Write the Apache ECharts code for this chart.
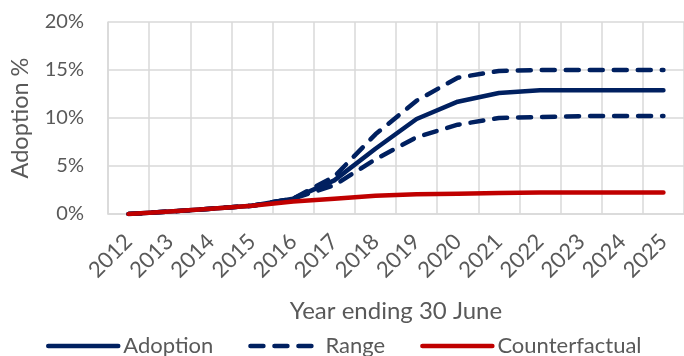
<!DOCTYPE html>
<html>
<head>
<meta charset="utf-8">
<script src="https://cdn.jsdelivr.net/npm/echarts@6/dist/echarts.min.js"></script>
<style>
  html, body { margin: 0; padding: 0; background: #fff; }
  #chart { width: 684px; height: 356px; }
</style>
</head>
<body>
<div id="chart"></div>
<script>
// Year ending 30 June
const years = ['2012', '2013', '2014', '2015', '2016', '2017', '2018',
               '2019', '2020', '2021', '2022', '2023', '2024', '2025'];

// Adoption, % of total
const adoption       = [0, 0.25, 0.55, 0.85, 1.6, 3.5, 6.8, 9.9, 11.7, 12.6, 12.9, 12.9, 12.9, 12.9];
const rangeHigh      = [0, 0.25, 0.55, 0.85, 1.6, 3.9, 8.3, 11.8, 14.2, 14.9, 15.0, 15.0, 15.0, 15.0];
const rangeLow       = [0, 0.25, 0.55, 0.85, 1.6, 3.0, 5.7, 8.0, 9.3, 10.0, 10.1, 10.2, 10.2, 10.2];
const counterfactual = [0, 0.25, 0.55, 0.85, 1.3, 1.6, 1.9, 2.05, 2.1, 2.2, 2.25, 2.25, 2.25, 2.25];

// Value axis ticks
const yTicks = [0, 5, 10, 15, 20];

const NAVY = '#002060';
const RED = '#C00000';
const TEXT = '#595959';
const GRID = '#d9d9d9';
const FONT = 'Lato';
const DASH = [13, 11];

const chart = echarts.init(document.getElementById('chart'), null, { renderer: 'canvas' });

function lineSeries(name, data, color, dashed) {
  return {
    name: name,
    type: 'line',
    data: data,
    symbol: 'none',
    smooth: false,
    lineStyle: {
      color: color,
      width: 4.5,
      cap: 'round',
      join: 'round',
      type: dashed ? DASH : 'solid'
    },
    itemStyle: { color: color },
    emphasis: { disabled: true }
  };
}

chart.setOption({
  animation: false,
  textStyle: { fontFamily: FONT },
  grid: { left: 107, right: -7, top: 22, bottom: 142, containLabel: false },
  xAxis: {
    type: 'category',
    data: years,
    boundaryGap: true,
    axisLine: { show: true, lineStyle: { color: GRID, width: 1.5 } },
    axisTick: { show: false },
    splitLine: { show: true, lineStyle: { color: GRID, width: 1.5 } },
    axisLabel: {
      interval: 0,
      rotate: 45,
      margin: 24,
      color: TEXT,
      fontSize: 22,
      fontFamily: FONT
    },
    name: 'Year ending 30 June',
    nameLocation: 'middle',
    nameGap: 85,
    nameTextStyle: { color: TEXT, fontSize: 24, fontFamily: FONT }
  },
  yAxis: {
    type: 'value',
    min: yTicks[0],
    max: yTicks[yTicks.length - 1],
    interval: yTicks[1] - yTicks[0],
    axisLine: { show: true, lineStyle: { color: GRID, width: 1.5 } },
    axisTick: { show: false },
    splitLine: { show: true, lineStyle: { color: GRID, width: 1.5 } },
    axisLabel: {
      margin: 24,
      color: TEXT,
      fontSize: 20,
      fontFamily: FONT,
      formatter: v => v + '%'
    },
    name: 'Adoption %',
    nameLocation: 'middle',
    nameGap: 76,
    nameRotate: 90,
    nameTextStyle: { color: TEXT, fontSize: 23.5, fontFamily: FONT }
  },
  legend: {
    data: ['Adoption', 'Range', 'Counterfactual'],
    left: 46,
    top: 335,
    itemWidth: 70,
    itemHeight: 22,
    itemGap: 35,
    padding: 0,
    itemStyle: { opacity: 0 },
    lineStyle: { width: 4.5, cap: 'round' },
    textStyle: { color: TEXT, fontSize: 22, fontFamily: FONT },
    selectedMode: false
  },
  series: [
    lineSeries('Range', rangeHigh, NAVY, true),
    lineSeries('Range', rangeLow, NAVY, true),
    lineSeries('Adoption', adoption, NAVY, false),
    lineSeries('Counterfactual', counterfactual, RED, false)
  ]
});
</script>
</body>
</html>
